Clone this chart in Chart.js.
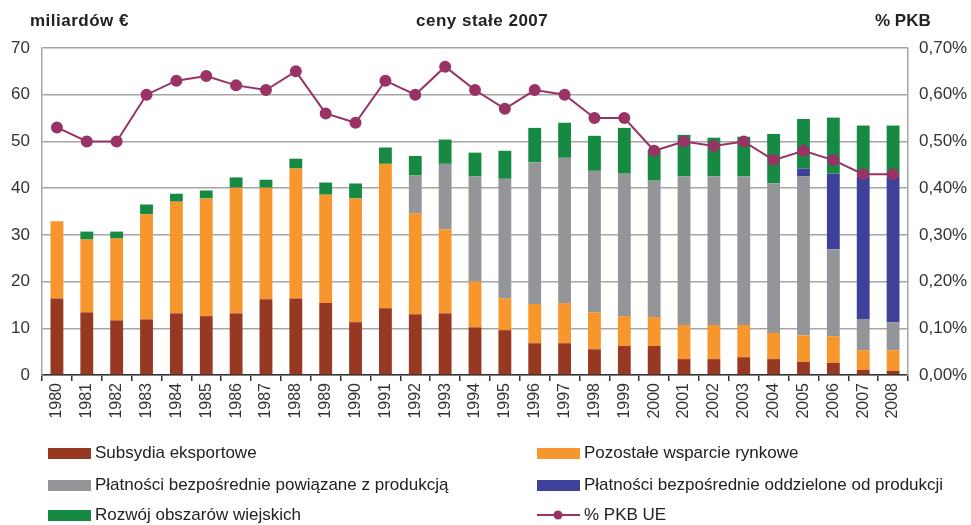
<!DOCTYPE html>
<html>
<head>
<meta charset="utf-8">
<script src="https://cdn.jsdelivr.net/npm/chart.js@4.4.1/dist/chart.umd.min.js"></script>
<style>
    body { margin: 0; background: #fff; }
    #wrap { position: relative; width: 971px; height: 525px; font-family: "Liberation Sans", Arial, sans-serif; color: #222; }
    canvas { position: absolute; left: 0; top: 0; }
    .ttl { position: absolute; top: 11px; font-weight: bold; font-size: 17px; letter-spacing: 0.5px; }
    .leg { position: absolute; font-size: 17px; display: flex; align-items: center; white-space: nowrap; }
    .box { width: 43px; height: 11px; margin-right: 4px; }
</style>
</head>
<body>
<div id="wrap">
    <canvas id="bar-chart" width="971" height="525"></canvas>
    <div class="ttl" style="left:30px">miliardów €</div>
    <div class="ttl" style="left:416px">ceny stałe 2007</div>
    <div class="ttl" style="left:875px;letter-spacing:0">% PKB</div>
    <div id="legend"></div>
</div>
<script>
var years = ['1980','1981','1982','1983','1984','1985','1986','1987','1988','1989','1990','1991','1992','1993','1994',
    '1995','1996','1997','1998','1999','2000','2001','2002','2003','2004','2005','2006','2007','2008'];

// billions EUR, each segment of the stack
var exportSubsidies = [16.4,13.4,11.7,11.9,13.2,12.6,13.2,16.2,16.4,15.4,11.3,14.3,13.0,13.2,10.2,
    9.6,6.8,6.8,5.5,6.2,6.2,3.4,3.4,3.8,3.4,2.8,2.6,1.1,0.9];
var otherMarket = [16.5,15.6,17.5,22.5,23.9,25.2,26.9,23.9,27.8,23.2,26.5,30.9,21.6,18.0,9.8,
    6.8,8.4,8.6,7.9,6.4,6.2,7.3,7.3,6.9,5.6,5.7,5.7,4.2,4.4];
var coupledPayments = [0,0,0,0,0,0,0,0,0,0,0,0,8.1,14.0,22.5,
    25.6,30.3,31.1,30.3,30.5,29.2,31.8,31.8,31.8,32.0,34.0,18.6,6.7,6.0];
var decoupledPayments = [0,0,0,0,0,0,0,0,0,0,0,0,0,0,0,
    0,0,0,0,0,0,0,0,0,0,1.7,16.2,30.5,31.2];
var ruralDev = [0,1.7,1.5,2.1,1.7,1.7,2.2,1.7,2.1,2.6,3.2,3.5,4.2,5.2,5.1,
    6.0,7.4,7.5,7.5,9.8,6.6,8.9,8.3,8.5,10.6,10.6,12.0,10.9,10.9];
// share of EU GDP
var gdpShare = [0.53,0.50,0.50,0.60,0.63,0.64,0.62,0.61,0.65,0.56,0.54,0.63,0.60,0.66,0.61,
    0.57,0.61,0.60,0.55,0.55,0.48,0.50,0.49,0.50,0.46,0.48,0.46,0.43,0.43];

var leftTicks = [0,10,20,30,40,50,60,70];

var colors = {
    brown: '#973822',
    orange: '#f7962d',
    grey: '#939598',
    blue: '#3e4199',
    green: '#168a42',
    line: '#993366'
};

function barSet(label, data, color) {
    return {
        type: 'bar',
        label: label,
        data: data,
        backgroundColor: color,
        borderWidth: 0,
        yAxisID: 'y',
        categoryPercentage: 1,
        barPercentage: 0.43,
        order: 1
    };
}

var axisFont = { family: '"Liberation Sans", Arial, sans-serif', size: 17 };

var ctx = document.getElementById('bar-chart').getContext('2d');
var chart = new Chart(ctx, {
    data: {
        labels: years,
        datasets: [
            barSet('Subsydia eksportowe', exportSubsidies, colors.brown),
            barSet('Pozostałe wsparcie rynkowe', otherMarket, colors.orange),
            barSet('Płatności bezpośrednie powiązane z produkcją', coupledPayments, colors.grey),
            barSet('Płatności bezpośrednie oddzielone od produkcji', decoupledPayments, colors.blue),
            barSet('Rozwój obszarów wiejskich', ruralDev, colors.green),
            {
                type: 'line',
                label: '% PKB UE',
                data: gdpShare,
                yAxisID: 'y2',
                borderColor: colors.line,
                backgroundColor: colors.line,
                borderWidth: 2,
                pointRadius: 5,
                tension: 0,
                order: 0
            }
        ]
    },
    options: {
        responsive: false,
        animation: false,
        layout: { padding: { top: 48, left: 0, right: 0, bottom: 0 } },
        plugins: {
            legend: { display: false },
            tooltip: { enabled: false }
        },
        scales: {
            x: {
                stacked: true,
                grid: { offset: true, drawOnChartArea: false, drawTicks: true, tickLength: 6, color: '#333', lineWidth: 1.5 },
                border: { color: '#333', width: 1.5 },
                ticks: { minRotation: 90, maxRotation: 90, autoSkip: false, color: '#333',
                    font: { family: '"Liberation Sans", Arial, sans-serif', size: 16 }, padding: 2 },
                afterFit: function(scale) { scale.height = 150; }
            },
            y: {
                stacked: true,
                position: 'left',
                min: 0,
                max: 70,
                afterBuildTicks: function(scale) { scale.ticks = leftTicks.map(function(v) { return { value: v }; }); },
                ticks: { color: '#333', font: axisFont, padding: 12 },
                grid: { color: '#a6a6a6', lineWidth: 1.5, drawTicks: false },
                border: { color: '#a6a6a6', width: 1.5 },
                afterFit: function(scale) { scale.width = 42; }
            },
            y2: {
                position: 'right',
                min: 0,
                max: 0.7,
                ticks: {
                    stepSize: 0.1,
                    color: '#333',
                    font: axisFont,
                    padding: 11,
                    callback: function(v) { return v.toFixed(2).replace('.', ',') + '%'; }
                },
                grid: { drawOnChartArea: false, drawTicks: false },
                border: { color: '#a6a6a6', width: 1.5 },
                afterFit: function(scale) { scale.width = 63; }
            }
        }
    }
});

// html legend, two columns like the original
var legendPos = [
    [48, 454], [537, 454],
    [48, 486], [537, 486],
    [48, 516], [537, 516]
];
var legendOrder = [0, 1, 2, 3, 4, 5];
var legendDiv = document.getElementById('legend');
legendOrder.forEach(function(idx, i) {
    var ds = chart.data.datasets[idx];
    var item = document.createElement('div');
    item.className = 'leg';
    item.style.left = legendPos[i][0] + 'px';
    item.style.top = (legendPos[i][1] - 11) + 'px';
    var mark;
    if (ds.type === 'line') {
        mark = '<svg width="43" height="12" style="margin-right:4px"><line x1="0" y1="6" x2="43" y2="6" stroke="' +
            ds.borderColor + '" stroke-width="2"/><circle cx="21" cy="6" r="4.5" fill="' + ds.borderColor + '"/></svg>';
    } else {
        mark = '<div class="box" style="background:' + ds.backgroundColor + '"></div>';
    }
    item.innerHTML = mark + '<span>' + ds.label + '</span>';
    legendDiv.appendChild(item);
});
</script>
</body>
</html>
